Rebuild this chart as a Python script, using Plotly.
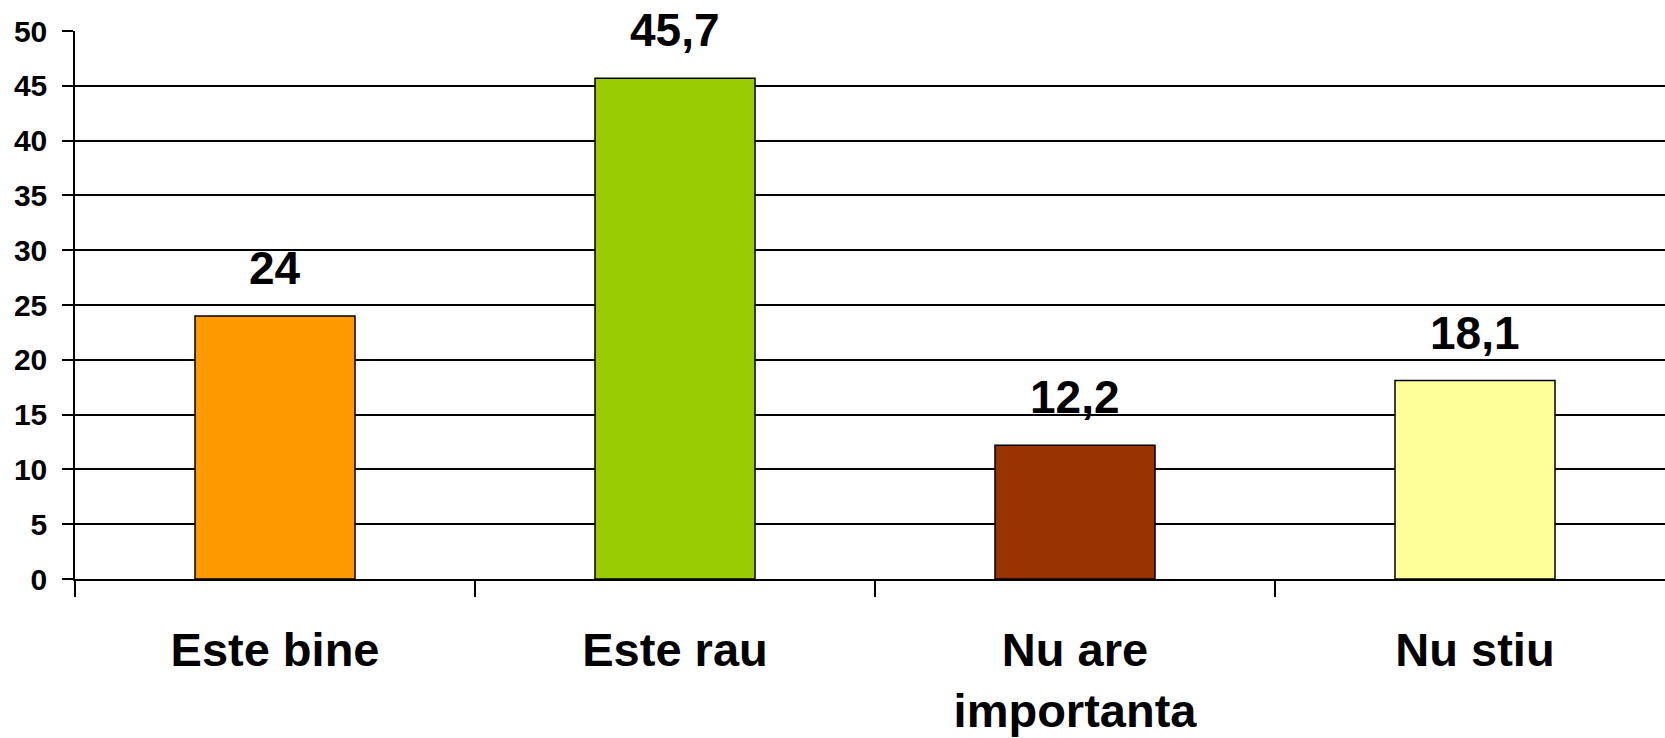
import plotly.graph_objects as go

categories = ["Este bine", "Este rau", "Nu are<br>importanta", "Nu stiu"]
values = [24, 45.7, 12.2, 18.1]
colors = ["#FF9900", "#99CC00", "#993300", "#FFFF99"]
y_ticks = [0, 5, 10, 15, 20, 25, 30, 35, 40, 45, 50]

FONT = "Liberation Sans, Arial, sans-serif"

fig = go.Figure()
fig.add_trace(go.Bar(
    x=categories, y=values,
    marker=dict(color=colors, line=dict(color="black", width=1.5)),
    width=0.4, hoverinfo="skip",
))

for c, v in zip(categories, values):
    fig.add_annotation(
        x=c, y=v, yanchor="bottom", xanchor="center",
        text="<b>" + (f"{v:g}".replace(".", ",")) + "</b>",
        showarrow=False, yshift=20,
        font=dict(family=FONT, size=46, color="black"),
    )

fig.update_layout(
    width=1665, height=738,
    margin=dict(l=75, r=0, t=31, b=159, pad=0, autoexpand=False),
    paper_bgcolor="white", plot_bgcolor="white",
    showlegend=False,
    font=dict(family=FONT, color="black"),
)
fig.update_xaxes(
    type="category", range=[-0.5, 3.475],
    tickson="boundaries", ticks="outside", ticklen=16, tickwidth=1.5, tickcolor="black",
    showline=True, linecolor="black", linewidth=1.5,
    showgrid=False,
    tickfont=dict(family=FONT, size=47, color="black"),
    ticklabelstandoff=29,
    automargin=False,
)
fig.update_yaxes(
    range=[0, 50], tickvals=y_ticks,
    ticktext=[f"<b>{t}</b>" for t in y_ticks],
    ticks="outside", ticklen=11, tickwidth=1.5, tickcolor="black",
    showline=True, linecolor="black", linewidth=1.5,
    showgrid=True, gridcolor="black", gridwidth=1.5,
    zeroline=False,
    tickfont=dict(family=FONT, size=30, color="black"),
    ticklabelstandoff=9,
    automargin=False,
)
fig.update_xaxes(ticktext=[f"<b>{c}</b>" for c in categories], tickvals=categories)

fig.write_html(
    "out.html",
    config={"displayModeBar": False},
    post_script="document.body.style.margin='0';document.body.style.overflow='hidden';",
)
